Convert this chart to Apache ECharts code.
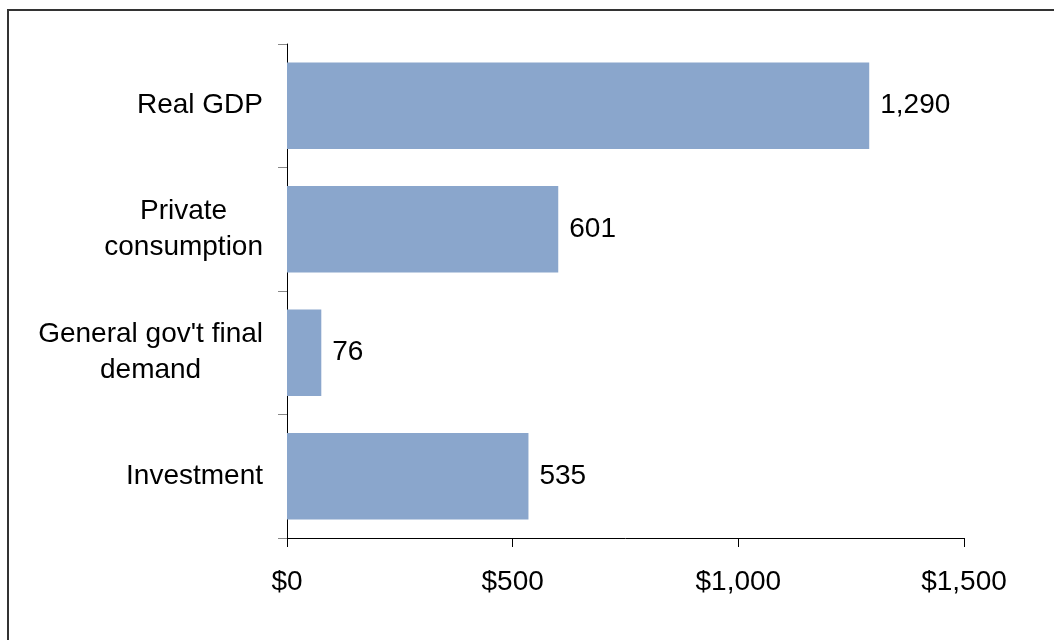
<!DOCTYPE html>
<html>
<head>
<meta charset="utf-8">
<script src="https://cdn.jsdelivr.net/npm/echarts@6/dist/echarts.min.js"></script>
<style>
  html, body { margin: 0; padding: 0; background: #fff; }
  #chart { width: 1054px; height: 640px; }
</style>
</head>
<body>
<div id="chart"></div>
<script>
// categories, top to bottom
var categories = ['Real GDP', 'Private\nconsumption', "General gov't final\ndemand", 'Investment'];
var values = [1290, 601, 76, 535];
var xTicks = [0, 500, 1000, 1500];

var FONT = '"Liberation Sans", Arial, sans-serif';

function comma(v) {
    return String(v).replace(/\B(?=(\d{3})+(?!\d))/g, ',');
}

var chart = echarts.init(document.getElementById('chart'), null, { renderer: 'canvas' });

chart.setOption({
    animation: false,
    backgroundColor: '#fff',
    textStyle: { fontFamily: FONT },
    // outer frame (only top and left edges fall inside the picture)
    graphic: [{
        type: 'rect',
        shape: { x: 8, y: 10, width: 1100, height: 700 },
        style: { fill: 'none', stroke: '#333', lineWidth: 2 },
        silent: true
    }],
    grid: { left: 287, top: 44, right: 90, bottom: 102, containLabel: false },
    xAxis: {
        type: 'value',
        min: xTicks[0],
        max: xTicks[xTicks.length - 1],
        interval: 500,
        splitLine: { show: false },
        axisLine: { show: true, lineStyle: { color: '#000', width: 1 } },
        axisTick: { show: true, length: 9, lineStyle: { color: '#000' } },
        axisLabel: {
            color: '#000', fontSize: 28, fontFamily: FONT, margin: 30,
            formatter: function (v) { return '$' + comma(v); }
        }
    },
    yAxis: {
        type: 'category',
        inverse: true,
        data: categories,
        axisLine: { show: true, lineStyle: { color: '#000', width: 1 } },
        axisTick: { show: true, length: 9, lineStyle: { color: '#888' } },
        axisLabel: {
            color: '#000', fontSize: 28, fontFamily: FONT, margin: 24,
            formatter: function (v) {
                return v.split('\n').map(function (s) { return '{c|' + s + '}'; }).join('\n');
            },
            rich: {
                c: { align: 'center', fontSize: 28, fontFamily: FONT, color: '#000', lineHeight: 36 }
            }
        }
    },
    series: [{
        type: 'bar',
        data: values,
        barCategoryGap: '30%',
        itemStyle: { color: '#8aa6cc' },
        label: {
            show: true, position: 'right', distance: 11,
            color: '#000', fontSize: 28, fontFamily: FONT,
            formatter: function (p) { return comma(p.value); }
        }
    }]
});
</script>
</body>
</html>
